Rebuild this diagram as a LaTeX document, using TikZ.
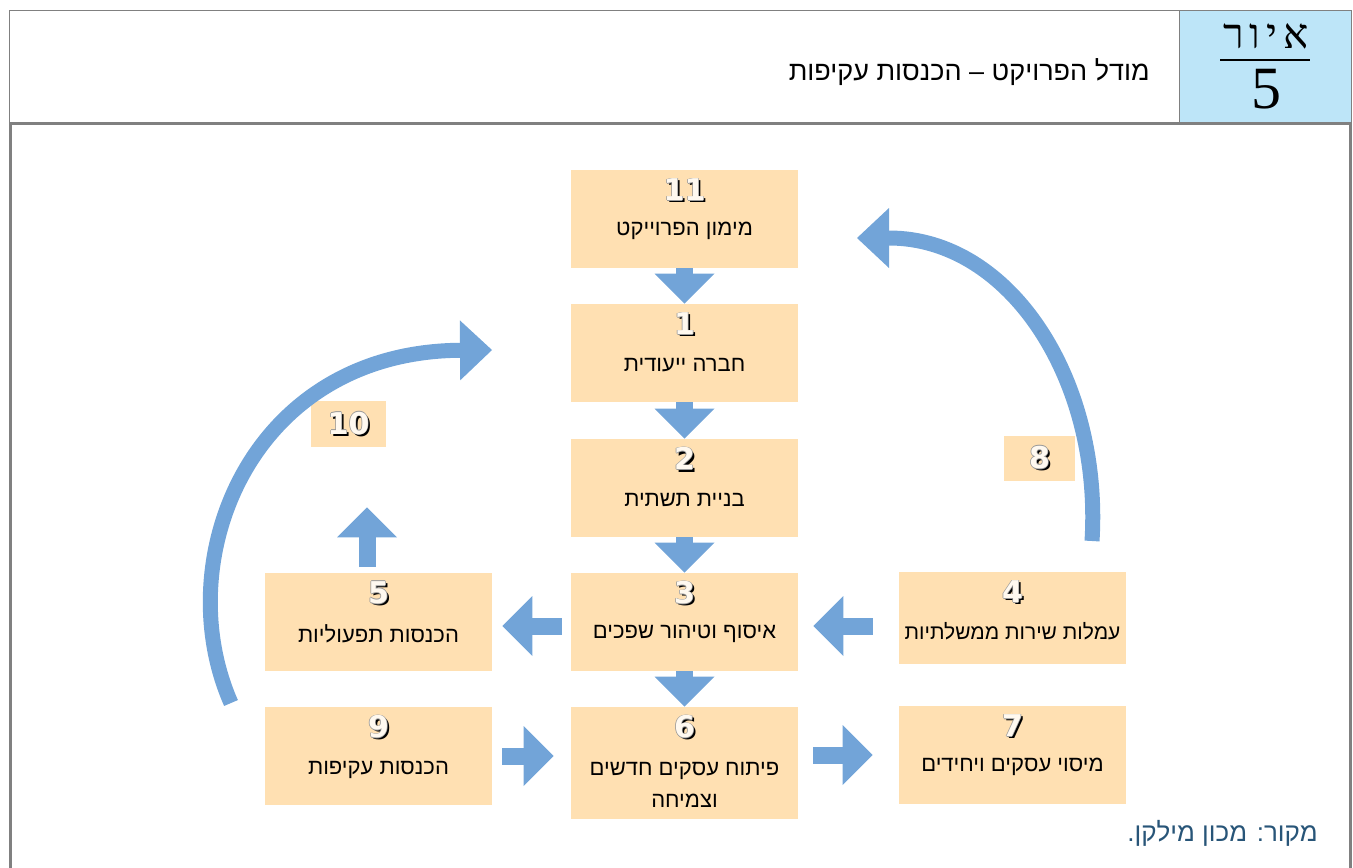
\documentclass[tikz,border=0pt]{standalone}
\usepackage{fontspec}
\setmainfont{Liberation Sans}
\newfontfamily\hebfont[Script=Hebrew]{Liberation Sans}
\newfontfamily\hebserif[Script=Hebrew]{Liberation Serif}
\newfontfamily\hebspaced[Script=Hebrew,LetterSpace=14]{Liberation Serif}
\newfontfamily\numfont{DejaVu Sans}
\TeXXeTstate=1
\usetikzlibrary{arrows.meta,positioning,calc}
\definecolor{boxfill}{RGB}{255,224,178}
\definecolor{arrowblue}{RGB}{114,164,216}
\definecolor{hdrblue}{RGB}{189,229,248}
\definecolor{framegray}{RGB}{128,128,128}
\definecolor{srcblue}{RGB}{40,85,120}
\newcommand{\heb}[1]{\beginR #1\endR}
\newcommand{\shnum}[1]{\leavevmode
  \rlap{\kern1.1pt\raisebox{-1.1pt}{\color{black}#1}}%
  \rlap{\kern0.35pt{\color{black!40}#1}}\rlap{\kern-0.35pt{\color{black!40}#1}}%
  \rlap{\raisebox{0.35pt}{\color{black!40}#1}}\rlap{\raisebox{-0.35pt}{\color{black!40}#1}}%
  {\color{white!80!boxfill}#1}}
\tikzset{
  blk/.style={fill=boxfill,minimum width=113.5pt,minimum height=49pt,inner sep=0pt},
  tag/.style={fill=boxfill,inner sep=0pt},
  num/.style={font=\numfont\bfseries\fontsize{15}{15}\selectfont,inner sep=0pt},
  txt/.style={font=\hebfont\fontsize{11}{16}\selectfont,align=center,inner sep=0pt},
  blkarrow/.style={draw=arrowblue,line width=8.5pt,
    -{Triangle[length=15pt,width=30pt,line width=0pt]}},
  curvarrow/.style={draw=arrowblue,line width=7.5pt,
    -{Triangle[length=16pt,width=30pt,line width=0pt]}},
}
\begin{document}
\begin{tikzpicture}[x=0.5pt,y=-0.5pt]
\useasboundingbox (0,0) rectangle (1353,867);
% header
\node[draw=framegray,line width=0.6pt,anchor=north west,minimum width=585pt,minimum height=56pt,inner sep=0pt] (ttlbox) at (9,10) {};
\node[draw=framegray,line width=0.6pt,fill=hdrblue,anchor=north west,minimum width=86pt,minimum height=56pt,inner sep=0pt] (figbox) at (1179,10) {};
\node[anchor=east,font=\hebfont\fontsize{13.5}{16}\selectfont,inner sep=0pt] (title) at (1150,72) {\heb{מודל הפרויקט – הכנסות עקיפות}};
\node[font=\hebspaced\fontsize{21}{24}\selectfont,inner sep=0pt] (fig) at (1266,36) {\heb{איור}};
\draw[line width=0.6pt] (1220,60) -- (1310,60);
\node[font=\hebserif\fontsize{30}{30}\selectfont,inner sep=0pt] (fignum) at (1266,89) {5};
\draw[framegray,line width=1.5pt] (10,880) -- (10,123.5) -- (1350,123.5) -- (1350,880);
% boxes
\node[blk] (b11) at (684.5,219) {};
\node[blk] (b1) at (684.5,353) {};
\node[blk] (b2) at (684.5,488) {};
\node[blk] (b3) at (684.5,622) {};
\node[blk,minimum height=56pt] (b6) at (684.5,763) {};
\node[blk] (b5) at (378.5,622) {};
\node[blk] (b9) at (378.5,756) {};
\node[blk,minimum height=46pt] (b4) at (1012.5,618) {};
\node[blk] (b7) at (1012.5,755) {};
\node[tag,minimum width=37.5pt,minimum height=23pt] (b10) at (348.5,424) {};
\node[tag,minimum width=35.5pt,minimum height=22.5pt] (b8) at (1039.5,458.5) {};
% arrows
\foreach \a/\b in {b11/b1,b1/b2,b2/b3,b3/b6} \draw[blkarrow] (\a)--(\b);
\draw[blkarrow,shorten <=4.5pt,shorten >=5pt] ([yshift=-2pt]b3.west)--([yshift=-2pt]b5.east);
\draw[blkarrow,shorten <=13pt,shorten >=7.5pt] ([yshift=-2pt]b4.west|-b3)--([yshift=-2pt]b3.east);
\draw[blkarrow,shorten <=5pt,shorten >=8.5pt] (b9.east)--(b6.west|-b9);
\draw[blkarrow,shorten <=7.5pt,shorten >=13pt] (b6.east|-b7)--(b7.west);
\coordinate (up5) at (367,573);
\draw[blkarrow,shorten <=3pt,shorten >=30pt] (up5)--(up5|-b10.south);
\coordinate (lfrom) at (231,703);
\coordinate (lto) at (492,350);
\draw[curvarrow] (lfrom) .. controls (168,560) and (250,352) .. (lto);
\coordinate (rfrom) at (1092,541);
\coordinate (rto) at (857,238);
\draw[curvarrow] (rfrom) .. controls (1102,380) and (1010,238) .. (rto);
% labels
\foreach \b/\n in {b11/11,b1/1,b2/2,b3/3,b6/6,b5/5,b9/9,b4/4,b7/7}
  \node[num] (n\b) at ([yshift=-10.5pt]\b.north) {\shnum{\n}};
\node[num] (nb10) at (b10) {\shnum{10}};
\node[num] (nb8) at (b8) {\shnum{8}};
\node[txt] (t11) at ([yshift=-30.5pt]b11.north) {\heb{מימון הפרוייקט}};
\node[txt] (t1) at ([yshift=-30.5pt]b1.north) {\heb{חברה ייעודית}};
\node[txt] (t2) at ([yshift=-30.5pt]b2.north) {\heb{בניית תשתית}};
\node[txt] (t3) at ([yshift=-30.5pt]b3.north) {\heb{איסוף וטיהור שפכים}};
\node[txt] (t5) at ([yshift=-30.5pt]b5.north) {\heb{הכנסות תפעוליות}};
\node[txt,font=\hebfont\fontsize{10.5}{16}\selectfont] (t4) at ([yshift=-30pt]b4.north) {\heb{עמלות שירות ממשלתיות}};
\node[txt] (t9) at ([yshift=-31.5pt]b9.north) {\heb{הכנסות עקיפות}};
\node[txt] (t7) at ([yshift=-30.5pt]b7.north) {\heb{מיסוי עסקים ויחידים}};
\node[txt] (t6) at ([yshift=-39pt]b6.north) {\heb{פיתוח עסקים חדשים}\\\heb{וצמיחה}};
\node[anchor=east,text=srcblue,font=\hebfont\fontsize{13}{15}\selectfont,inner sep=0pt] (src) at (1318,833) {\heb{מקור: מכון מילקן.}};
\end{tikzpicture}
\end{document}
